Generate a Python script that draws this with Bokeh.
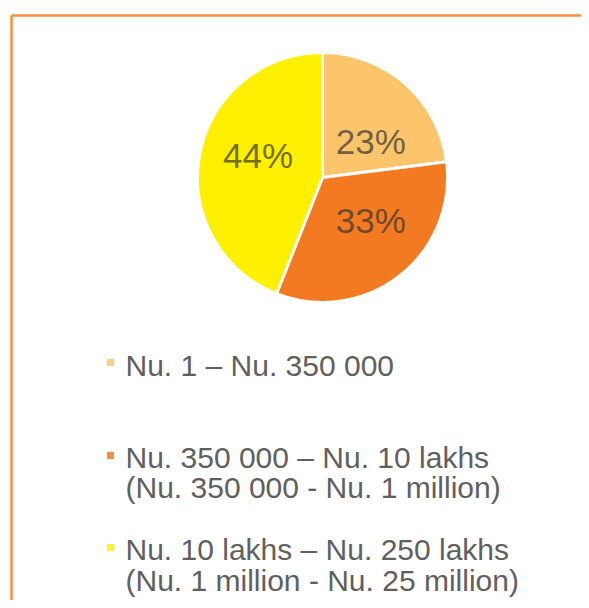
import math
from bokeh.plotting import figure
from bokeh.models import ColumnDataSource, Range1d
from bokeh.core.properties import value
from bokeh.embed import file_html
from bokeh.resources import INLINE

# ---- data ----
shares = [23, 33, 44]
pct_labels = ["23%", "33%", "44%"]
slice_colors = ["#FDC56B", "#F47A22", "#FFF000"]
legend_lines = [
    ["Nu. 1 \u2013 Nu. 350 000"],
    ["Nu. 350 000 \u2013 Nu. 10 lakhs", "(Nu. 350 000 - Nu. 1 million)"],
    ["Nu. 10 lakhs \u2013 Nu. 250 lakhs", "(Nu. 1 million - Nu. 25 million)"],
]

# ---- layout (picture pixel coordinates, y measured downwards) ----
W, H = 581, 600
PAGE_H = 608
def Y(py):
    return PAGE_H - py

cx, cy, R = 322, 177, 125
label_r = 0.5 * R
label_nudge = [(7, 11), (10, -6), (-3, -10)]
legend_sq_x = 110
legend_sq_y = [362, 455, 547]
legend_text_x = 125
legend_mid = [[365], [457, 487], [549, 580]]
text_color = "#606060"

p = figure(width=W, height=H, output_backend="svg", toolbar_location=None,
           x_range=Range1d(0, W), y_range=Range1d(PAGE_H - H, PAGE_H),
           min_border=0, outline_line_color=None)
p.axis.visible = False
p.grid.visible = False
p.background_fill_color = "white"
p.border_fill_color = "white"

# orange frame (top and left edges)
p.line(x=[11, W], y=[Y(15), Y(15)], line_color="#F7913D", line_width=2.5)
p.line(x=[11, 11], y=[Y(15), Y(PAGE_H)], line_color="#F7913D", line_width=2.5)

# ---- pie ----
total = float(sum(shares))
starts, ends, lx, ly = [], [], [], []
cum = 0.0
for i, s in enumerate(shares):
    a0 = math.pi / 2 - 2 * math.pi * cum / total
    cum += s
    a1 = math.pi / 2 - 2 * math.pi * cum / total
    starts.append(a0)
    ends.append(a1)
    mid = (a0 + a1) / 2
    lx.append(cx + label_r * math.cos(mid))
    ly.append(Y(cy) + label_r * math.sin(mid))

src = ColumnDataSource(dict(start=starts, end=ends, color=slice_colors,
                            lx=lx, ly=ly, label=pct_labels,
                            xo=[n[0] for n in label_nudge],
                            yo=[n[1] for n in label_nudge]))
p.wedge(x=cx, y=Y(cy), radius=R, start_angle="start", end_angle="end",
        direction="clock", fill_color="color", line_color="white",
        line_width=3, source=src)
p.text(x="lx", y="ly", text="label", x_offset="xo", y_offset="yo", source=src,
       text_align="center", text_baseline="middle",
       text_font=value("Liberation Sans"), text_font_size="35px",
       text_color="#333333", text_alpha=0.7)

# ---- legend ----
p.scatter(x=[legend_sq_x] * 3, y=[Y(v) for v in legend_sq_y], marker="square",
          size=7, fill_color=slice_colors, fill_alpha=0.85, line_color=None)
tx, ty, tt = [], [], []
for lines, mids in zip(legend_lines, legend_mid):
    for t, m in zip(lines, mids):
        tx.append(legend_text_x)
        ty.append(Y(m))
        tt.append(t)
p.text(x=tx, y=ty, text=tt, text_align="left", text_baseline="middle",
       text_font=value("Liberation Sans"), text_font_size="30px",
       text_color=text_color)

open("out.html", "w").write(file_html(p, INLINE))
